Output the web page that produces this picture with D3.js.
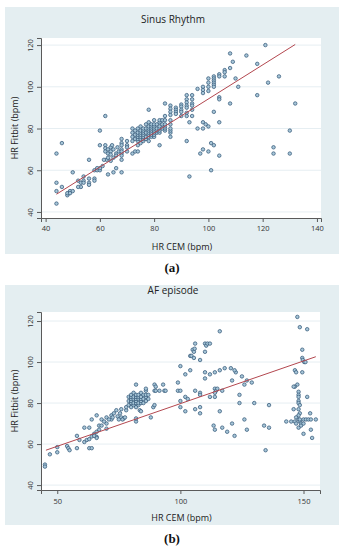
<!DOCTYPE html>
<html><head><meta charset="utf-8">
<script src="https://cdn.jsdelivr.net/npm/d3@7"></script>
<style>body{margin:0;background:#fff}svg{display:block}</style>
</head><body>
<svg id="c" width="343" height="550"></svg>
<script>
// ---------- DATA ----------
const titles = ["Sinus Rhythm", "AF episode"];
const captions = ["(a)", "(b)"];
const xLabel = "HR CEM (bpm)";
const yLabel = "HR Fitbit (bpm)";
const sinusXTicks = [40, 60, 80, 100, 120, 140];
const sinusYTicks = [40, 60, 80, 100, 120];
const afXTicks = [50, 100, 150];
const afYTicks = [40, 60, 80, 100, 120];

// Sinus rhythm: HR CEM (x) vs HR Fitbit (y)
const sinusCEM = [
 44,46,44,44,44,46,50,48,48.5,49,50,48,49,
 52,53,53,52,54,54,54,56,56,56,56,58,58,
 58,59,60,60,61,59,60,60,62,
 62,62,62,63,63,64,64,64,64.5,65,66,66,66.5,67,68,62.5,64,61.5,63,65,
 63,65,66,68,
 68,68,68,68,68,68,68,70,70,70,70,72,73,74,
 72,72,72,72,73,73,73,74,74,74,74,74,74,74,75,75,75,75,75,75,75,
 76,76,76,76,76,76,76,77,77,77,77,77,78,78,78,78,78,78,78,78,
 79,79,79,79,79,79,79,80,80,80,80,80,80,80,80,81,81,81,81,
 82,82,82,82,82,82,83,83,83,84,84,84,84,84,84,86,86,86,86,86,86,
 82,92,93,97,98,100,101,102,101,104,96,98,98,99,100,93,94,102,104,84,78,
 86,86,86,86,88,88,88,88,90,90,90,90,90,92,92,92,92,92,92,92,94,94,94,94,94,
 96,98,98,98,100,100,100,100,102,102,102,102,102,102,104,104,104,104,
 106,106,106,108,108,109,110,111,114,118,121,122,126,118,132,108,
 124,124,130,130
];
const sinusFitbit = [
 68,73,54,50,44,52,59,48,49,50,50,49,49,
 55,54,52,52,55,54,57,65,56,54,53,56,55,
 60,60,60,61,62,61,79,72,86,
 72,70.5,69,70,68,71,69,67.5,72,70,68,67,71,69,68,65,64.5,65,66,66,
 58,59,61,59,
 75,73,72,70,69,67,65,74,72,71,69,68,69,69,
 74,76,78,80,75,77,79,72,74,75,76,77,78,80,73,75,76,77,78,79,81,
 74,75,76,77,78,79,80,75,76,78,80,82,74,76,77,78,79,80,81,83,
 76,77,78,79,80,81,82,76,77,78,79,80,81,82,84,78,79,80,82,
 78,79,80,81,83,84,80,82,84,79,80,81,82,84,86,76,78,79,80,82,84,
 72,74,57,68,70,69,73,72,60,67,80,80,83,82,81,83,86,88,83,92,89,
 91,89.5,88,86.5,90,89,88,87,91.5,90.5,89,88,86,96,94,92.5,91,90,87.5,86,96,94,92,91,89,
 99,100,98.5,97,104,102,100,98,105,104,103,102,101,100,106,105,95,94,
 108,107,105,109,116,112,104,100,115,111,120,102,105,96,92,92,
 71,68,79,68
];
const sinusFitX = [44, 132];
const sinusFitY = [48.5, 120.3];

// AF episode
const afCEM = [
 45,45,47,50,50,54,54.5,55,58,59,58,
 61,63,61,62,63,64,63,64,64,66,
 65,66,67,67,68,66,66,65,
 68,70,70,72,72,72.5,70,69,71,
 74,74.5,75.5,76,77,75,76.5,77.5,73,76,78,78,
 79,79,79,80,80,80,80,80,80,81,81,81,81,81,82,82,82,82,82,82,83,83,83,83,83,
 84,84,84,84,84,85,85,85,86,86,86,86,86,87,87,
 82,82,82,83.5,84,88,89.5,90,89.5,89,89.5,93,93.5,90,91.5,
 94,99,99,100,100,100,100,102,104,102,103,102,
 104,104.5,105,105.5,106,105.8,105.5,108,106,108,108,106,108,108,
 110,110.5,111,112,110,110,112,114,116,118,110,
 112,114,114,114.5,115,114,117,116,116,
 113.5,114,117,119,121,122,120.5,122.5,122,121,124,124,125,126,127,126,127,129,130,134,134.6,136,136,
 147.5,148.5,151.5,149.5,149.5,149.7,150.3,150.8,146.5,147,149.5,147.5,146.5,146,
 148,148,148,148,151.5,148,148.5,148,148.5,148,147,148,148.5,149,146,
 143,145,146.5,148.5,150,151,152,153,155,152.7,148,149,150,153,150,153.5,147
];
const afFitbit = [
 50,49,55,56,58.5,59,58,57,58,62,64,
 68,68,61,62,62.4,63.7,58,58,72,74,
 65,66,67,69,69,63.5,63,64,
 72,70,73,74,72,73,67.5,71,72,
 76.5,73.5,75,73,72.5,72,72,73,75,77,76.5,78,
 79,81,83,78,80,81,82,83,84,79,80,82,83,85,78,80,81,82,83,84,79,80,82,83,84,
 80,81,82,83,85,80,82,84,81,83,84,86,87,82,84,
 89,71,72.5,76.5,76,73,89,88,86,78,79,89,86,86,86,
 86,90,86,86,98,81,78,94,96,83,82,76,
 103,103,106,105,109,106.5,102,101,86,85,84,77,78,75,
 109,108,109,109,105,95,94,95,96,97,92,
 83,83,87,86,87,85,86,115,76,
 69,67,68,66,70,64,97,95,96,91,84,80,93,89,91,72,67,90,80,69,57,79,68,
 122,117,116,106,102,101,100,100,96,95,95,89,88,88,
 85.5,84,83,81,83,80,79,77,75,74,73,72,71,70,77,
 71,71,71,72,72,72,72,72,72,75,68,69,70,67,65,63,70
];
const afFitX = [45.4, 155];
const afFitY = [57, 102.6];

// ---------- DRAW ----------
const svg = d3.select("#c");
const FONT = "'Open Sans', 'Noto Sans', sans-serif";
const panels = [
  {box:[5,7,339,254], plot:[41,38,321,218], xd:[38.3,141.5], yd:[37.1,123.4],
   xs:sinusCEM, ys:sinusFitbit, fx:sinusFitX, fy:sinusFitY, xt:sinusXTicks, yt:sinusYTicks,
   title:titles[0], titleY:22.5, xtY:231, xlY:249.5, cap:captions[0], capY:272},
  {box:[5,285,339,525], plot:[41,312,320,490], xd:[43.4,156.7], yd:[37.6,124.4],
   xs:afCEM, ys:afFitbit, fx:afFitX, fy:afFitY, xt:afXTicks, yt:afYTicks,
   title:titles[1], titleY:294, xtY:504, xlY:520.5, cap:captions[1], capY:543}
];

panels.forEach(p => {
  const [bx0,by0,bx1,by1] = p.box;
  const [px0,py0,px1,py1] = p.plot;
  const g = svg.append("g");
  g.append("rect").attr("x",bx0).attr("y",by0).attr("width",bx1-bx0).attr("height",by1-by0)
    .attr("fill","#e4eef1");
  g.append("rect").attr("x",px0).attr("y",py0).attr("width",px1-px0).attr("height",py1-py0)
    .attr("fill","#ffffff");
  const x = d3.scaleLinear().domain(p.xd).range([px0,px1]);
  const y = d3.scaleLinear().domain(p.yd).range([py1,py0]);

  g.selectAll(null).data(p.yt).join("line")
    .attr("x1",px0).attr("x2",px1).attr("y1",d=>y(d)).attr("y2",d=>y(d))
    .attr("stroke","#e6eef2").attr("stroke-width",1);

  const ax = d3.axisBottom(x).tickValues(p.xt).tickSize(4).tickPadding(3);
  const xg = g.append("g").attr("transform",`translate(0,${py1})`).call(ax);
  xg.select(".domain").attr("stroke","#5a5a5a");
  xg.selectAll(".tick line").attr("stroke","#5a5a5a");
  xg.selectAll("text").attr("font-family",FONT).attr("font-size",7.5).attr("fill","#333")
    .attr("dy",null).attr("y",p.xtY-py1);

  const ay = d3.axisLeft(y).tickValues(p.yt).tickSize(4).tickPadding(3);
  const yg = g.append("g").attr("transform",`translate(${px0},0)`).call(ay);
  yg.select(".domain").attr("stroke","#5a5a5a");
  yg.selectAll(".tick line").attr("stroke","#5a5a5a");
  yg.selectAll("text").attr("font-family",FONT).attr("font-size",7.5).attr("fill","#333")
    .attr("x",null).attr("dy",null)
    .attr("text-anchor","middle")
    .attr("transform","translate(-8,0) rotate(-90)");

  g.selectAll(null).data(p.xs.map((v,i)=>[v,p.ys[i]])).join("circle")
    .attr("cx",d=>x(d[0])).attr("cy",d=>y(d[1])).attr("r",1.75)
    .attr("fill","#a7c6d8").attr("stroke","#36597a").attr("stroke-width",0.75);

  g.append("line").attr("x1",x(p.fx[0])).attr("y1",y(p.fy[0]))
    .attr("x2",x(p.fx[1])).attr("y2",y(p.fy[1]))
    .attr("stroke","#b3474f").attr("stroke-width",1);

  g.append("text").attr("x",173).attr("y",p.titleY).attr("text-anchor","middle")
    .attr("font-family",FONT).attr("font-size",10).attr("fill","#222").text(p.title);
  g.append("text").attr("x",(px0+px1)/2+1).attr("y",p.xlY).attr("text-anchor","middle")
    .attr("font-family",FONT).attr("font-size",9).attr("fill","#222").text(xLabel);
  g.append("text").attr("transform",`translate(18,${(py0+py1)/2}) rotate(-90)`)
    .attr("text-anchor","middle")
    .attr("font-family",FONT).attr("font-size",9).attr("fill","#222").text(yLabel);
  g.append("text").attr("x",172).attr("y",p.capY).attr("text-anchor","middle")
    .attr("font-family","'Liberation Serif', 'DejaVu Serif', serif").attr("font-size",13)
    .attr("font-weight","bold").attr("fill","#111").text(p.cap);
});
</script>
</body></html>
